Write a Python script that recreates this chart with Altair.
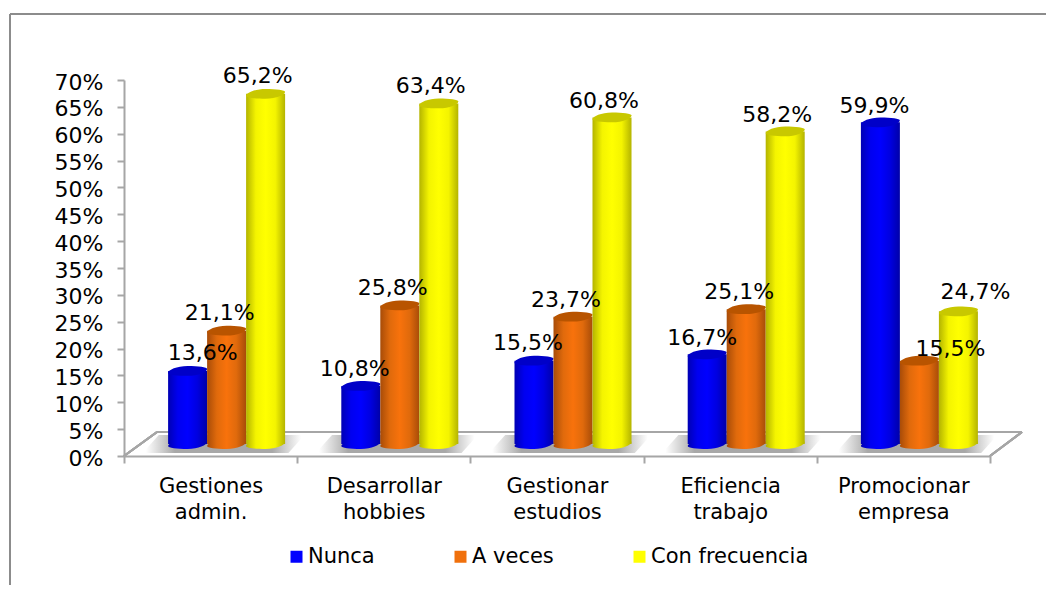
import altair as alt
import pandas as pd

categories = ["Gestiones admin.", "Desarrollar hobbies", "Gestionar estudios", "Eficiencia trabajo", "Promocionar empresa"]
series_names = ["Nunca", "A veces", "Con frecuencia"]
nunca = [13.6, 10.8, 15.5, 16.7, 59.9]
a_veces = [21.1, 25.8, 23.7, 25.1, 15.5]
con_frecuencia = [65.2, 63.4, 60.8, 58.2, 24.7]
y_ticks = list(range(0, 75, 5))
series_values = [nunca, a_veces, con_frecuencia]

FONT = "DejaVu Sans"
GREY = "#a6a6a6"
W, H = 866, 376
DEPTH = -12
ELLIPSE = "M-1,0.1 C-1,-0.05 -0.55,-0.25 0,-0.25 C0.55,-0.25 1,-0.2 1,-0.1 C1,0.05 0.55,0.25 0,0.25 C-0.55,0.25 -1,0.2 -1,0.1 Z"
SHADOW = "M-1,0.11 L-0.8,-0.11 L1,-0.11 L0.8,0.11 Z"


def grad(stops, offsets=None):
    n = len(stops) - 1
    offsets = offsets or [i / n for i in range(n + 1)]
    return alt.LinearGradient(
        gradient="linear", x1=0, x2=1, y1=0, y2=0,
        stops=[alt.GradientStop(offset=o, color=c) for o, c in zip(offsets, stops)],
    )


styles = [
    dict(body=grad(["#0000b4", "#0000f0", "#0000ff", "#0000e0", "#0000a8"]), top="#0000c8", shift=-23),
    dict(body=grad(["#a84c08", "#e06a0c", "#f8720c", "#e06a0c", "#a84c08"]), top="#b85400", shift=16),
    dict(body=grad(["#b4b400", "#f4f400", "#ffff00", "#f4f400", "#b4b400"]), top="#c8c800", shift=55),
]

# per-label nudges in pixels (dx from category centre, dy from value position)
nudges = [
    [(-8, -30), (-29, -29), (-29, -30), (-28, -28), (-29, -28)],
    [(9, -30), (9, -29), (9, -29), (9, -29), (47, -24)],
    [(47, -30), (47, -29), (47, -28), (47, -28), (72, -31)],
]

frames = []
for name, vals in zip(series_names, series_values):
    frames.append(pd.DataFrame({
        "category": categories,
        "series": name,
        "value": vals,
        "label": [f"{v:.1f}%".replace(".", ",") for v in vals],
    }))
df = pd.concat(frames, ignore_index=True)
cat_df = pd.DataFrame({"category": categories})

x_enc = alt.X(
    "category:N", sort=categories,
    scale=alt.Scale(paddingInner=0, paddingOuter=0),
    axis=alt.Axis(
        title=None, labelAngle=0, labelExpr="split(datum.label, ' ')", tickBand="extent",
        labelFont=FONT, labelFontSize=21, labelColor="#000000", labelPadding=12, labelLineHeight=26,
        tickSize=7, tickWidth=2, tickColor=GREY, domainColor=GREY, domainWidth=2, grid=False,
    ),
)
y_axis = alt.Axis(
    title=None, values=y_ticks, tickCount=15, labelExpr="datum.value + '%'", labelOverlap=False,
    labelFont=FONT, labelFontSize=22, labelColor="#000000", labelPadding=14, labelOffset=2,
    tickSize=7, tickWidth=2, tickColor=GREY, domainColor=GREY, domainWidth=2, grid=False,
)
y_scale = alt.Scale(domain=[0, 70])
y_enc = alt.Y("value:Q", scale=y_scale, axis=y_axis)
zero = alt.Y(datum=0, scale=y_scale, axis=y_axis)

layers = []

# frame around the picture
layers += [
    alt.Chart(cat_df).mark_rule(color="#8c8c8c", strokeWidth=2).encode(
        x=alt.value(-114), x2=alt.value(-114), y=alt.value(-66), y2=alt.value(520)),
    alt.Chart(cat_df).mark_rule(color="#8c8c8c", strokeWidth=2).encode(
        x=alt.value(-114), x2=alt.value(940), y=alt.value(-66), y2=alt.value(-66)),
]

# floor edges
for x1, x2, y1, y2 in [(33, 898, 352, 352), (0, 33, 376, 352), (866, 898, 376, 352)]:
    layers.append(alt.Chart(cat_df).mark_rule(color=GREY, strokeWidth=2).encode(
        x=alt.value(x1), x2=alt.value(x2), y=alt.value(y1), y2=alt.value(y2)))

# floor shadows
layers.append(alt.Chart(cat_df).mark_point(
    shape=SHADOW, size=162 ** 2, filled=True, opacity=1, strokeWidth=0,
    fill=grad(["#ffffff", "#a8a8a8", "#a8a8a8", "#ffffff"], [0.02, 0.2, 0.8, 0.98]),
    xOffset=13, yOffset=DEPTH,
).encode(x=x_enc, y=zero))

# axis-bearing invisible layer with real legend
layers.append(alt.Chart(df).mark_point(shape="square", filled=True, opacity=0, size=144).encode(
    x=x_enc, y=y_enc,
    color=alt.Color(
        "series:N", sort=series_names,
        scale=alt.Scale(domain=series_names, range=["#0000ff", "#f0700c", "#ffff00"]),
        legend=alt.Legend(
            title=None, orient="none", legendX=162, legendY=466, direction="horizontal", columns=3,
            columnPadding=75, symbolType="square", symbolSize=144, symbolOpacity=1, symbolStrokeWidth=0,
            labelFont=FONT, labelFontSize=21, labelColor="#000000", labelOffset=1, padding=0,
        ),
    ),
))

# cylinders
for name, st in zip(series_names, styles):
    d = df[df.series == name]
    base = alt.Chart(d)
    layers.append(base.mark_point(
        shape=ELLIPSE, size=39 ** 2, filled=True, opacity=1, strokeWidth=0, fill=st["body"],
        xOffset=st["shift"], yOffset=DEPTH,
    ).encode(x=x_enc, y=zero))
    layers.append(base.mark_bar(
        size=39, fill=st["body"], xOffset=st["shift"], yOffset=DEPTH, y2Offset=DEPTH,
    ).encode(x=x_enc, y=y_enc, y2=alt.Y2(datum=0)))
    layers.append(base.mark_point(
        shape=ELLIPSE, size=39 ** 2, filled=True, opacity=1, strokeWidth=0, fill=st["top"],
        xOffset=st["shift"], yOffset=DEPTH,
    ).encode(x=x_enc, y=y_enc))

# data labels
for name, nudge in zip(series_names, nudges):
    d = df[df.series == name].reset_index(drop=True)
    for i, (dx, dy) in enumerate(nudge):
        layers.append(alt.Chart(d.iloc[[i]]).mark_text(
            font=FONT, fontSize=22, color="#000000", align="center", baseline="middle", dx=dx, dy=dy,
        ).encode(x=x_enc, y=y_enc, text="label:N"))

chart = alt.layer(*layers).properties(
    width=W, height=H,
    padding={"left": 116, "top": 72, "right": 56, "bottom": 129},
    autosize=alt.AutoSizeParams(type="none"),
    background="#ffffff",
).configure_view(stroke=None)

chart.save("out.html", embed_options={"renderer": "svg", "actions": False})
